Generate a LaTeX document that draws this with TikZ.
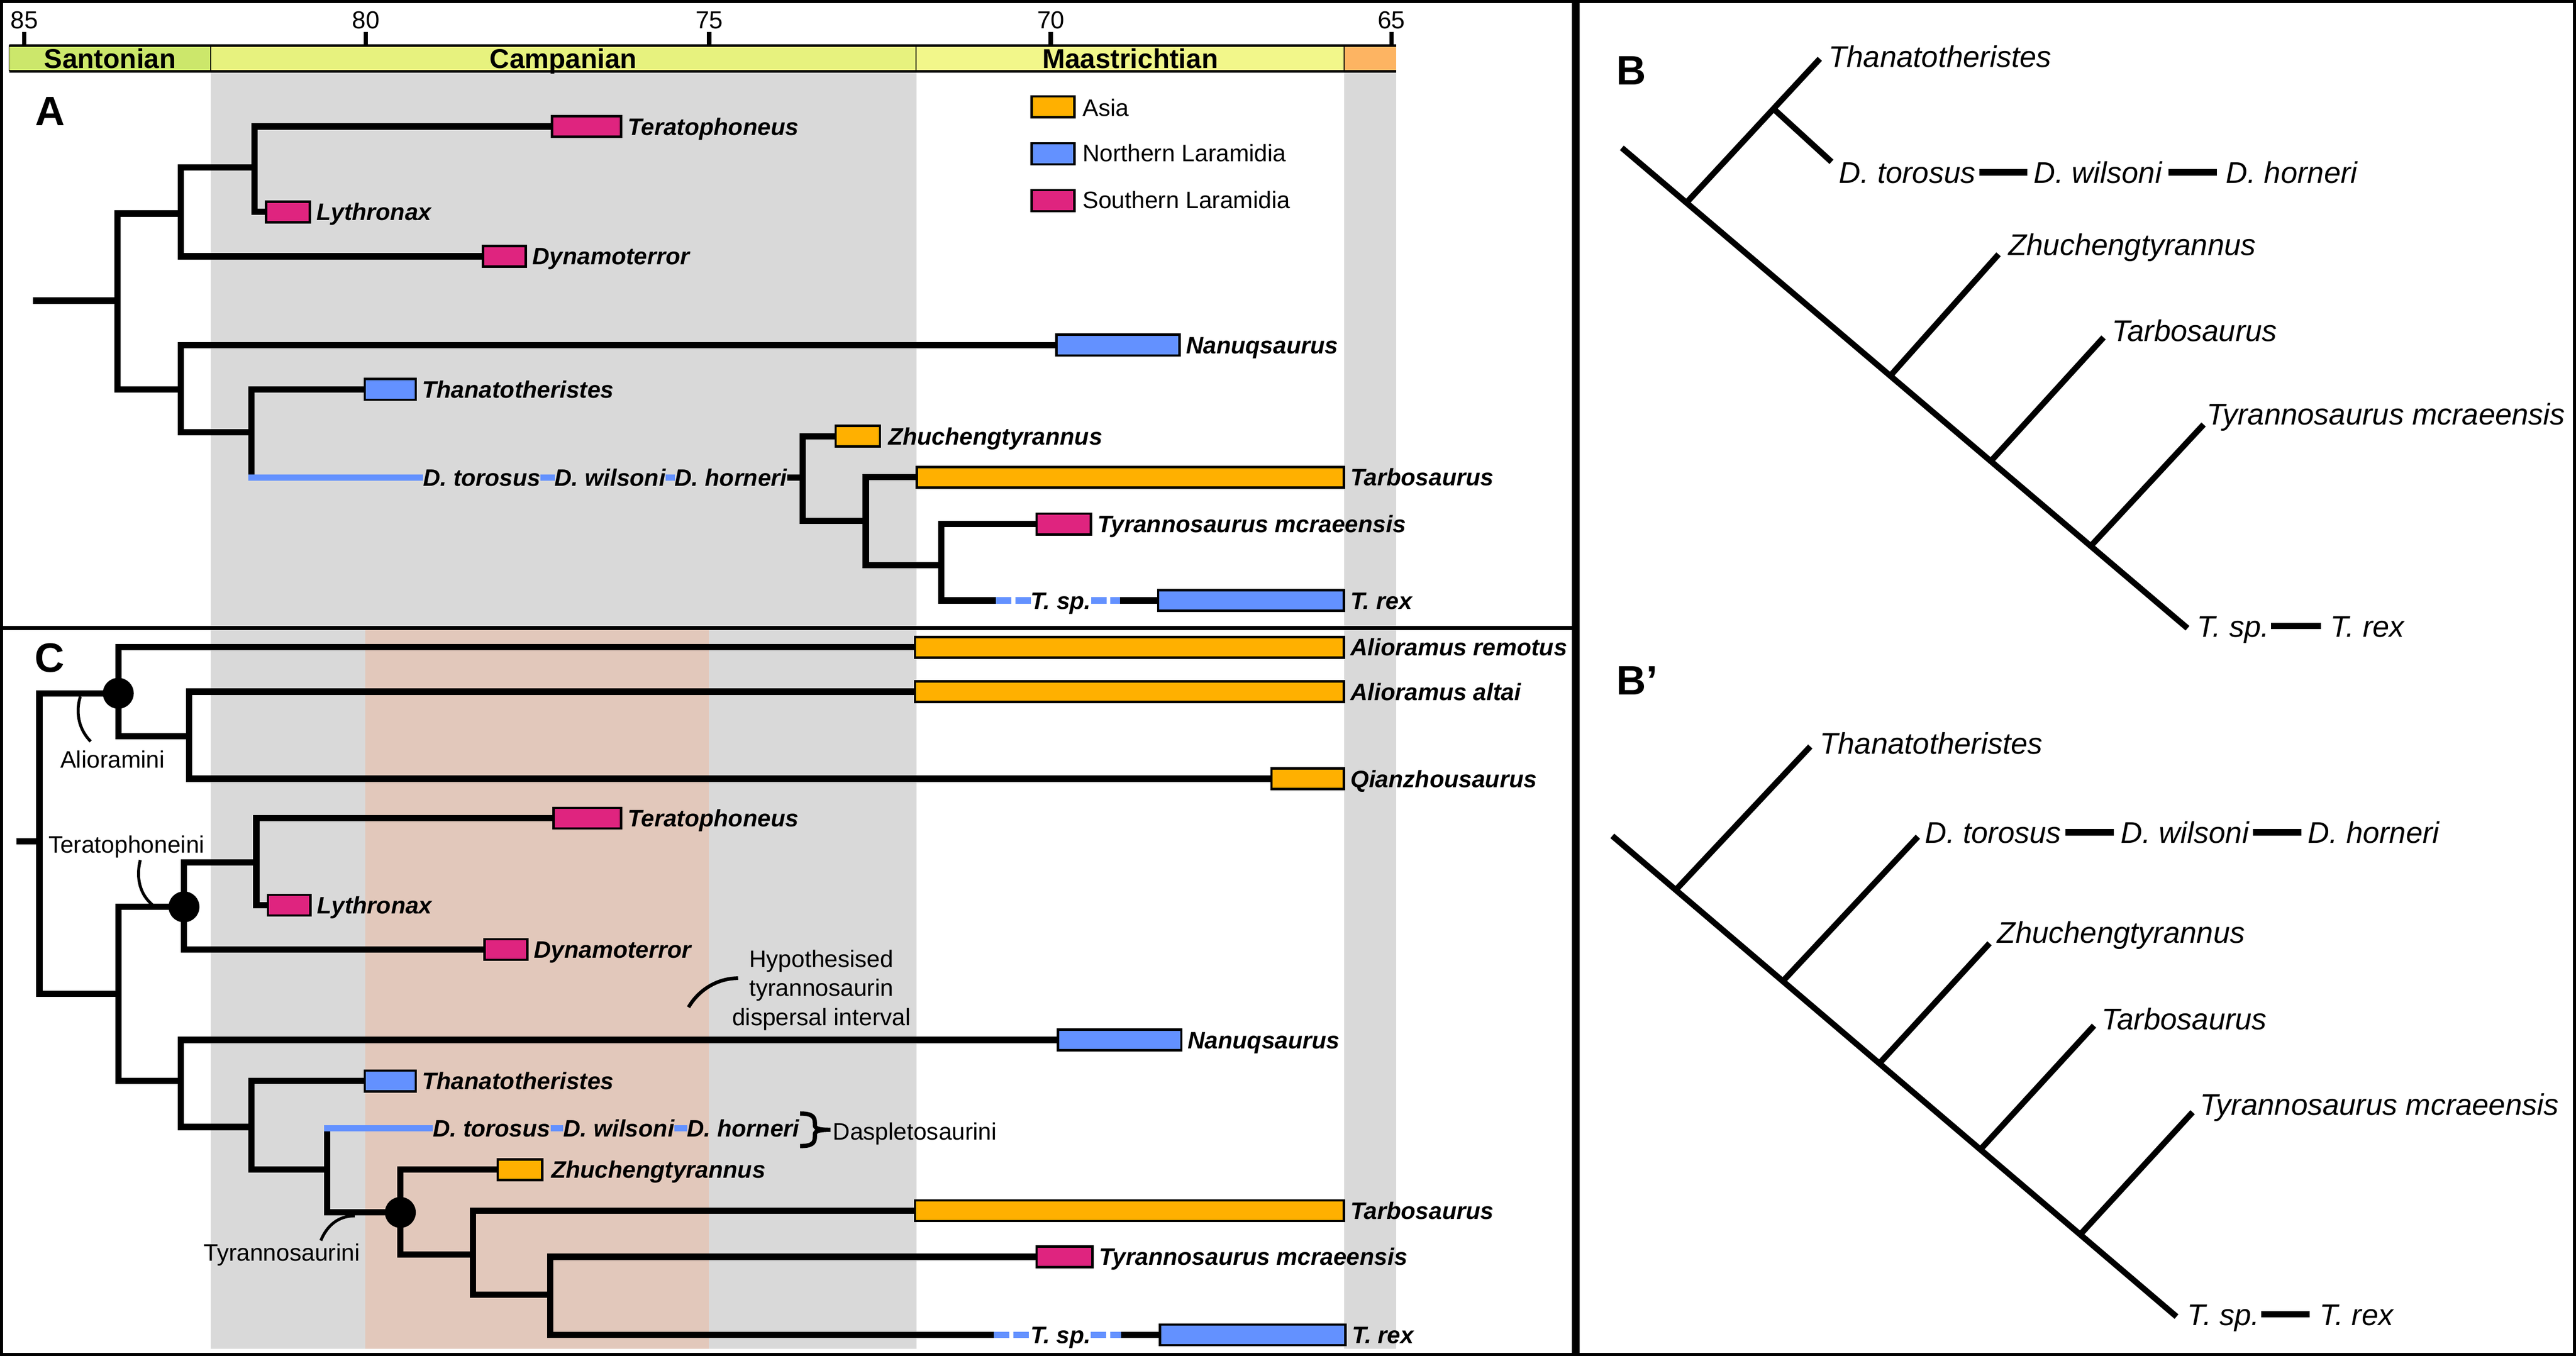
\documentclass[tikz,border=0pt]{standalone}
\usepackage{fontspec}
\setmainfont{Liberation Sans}
\definecolor{greyc}{HTML}{D9D9D9}
\definecolor{salmonc}{HTML}{E2C8BB}
\definecolor{santc}{HTML}{CCE76B}
\definecolor{campc}{HTML}{E7F27E}
\definecolor{maasc}{HTML}{F2F78A}
\definecolor{orangec}{HTML}{FDB462}
\definecolor{asiac}{HTML}{FFB000}
\definecolor{bluec}{HTML}{6391FF}
\definecolor{magc}{HTML}{DF247F}
\newcommand\rstax{\fontsize{20.6pt}{24pt}\selectfont\bfseries\itshape}
\newcommand\rsann{\fontsize{20.6pt}{24pt}\selectfont}
\newcommand\rsbtax{\fontsize{25.9pt}{30pt}\selectfont\itshape}
\newcommand\rsstage{\fontsize{23.6pt}{28pt}\selectfont\bfseries}
\newcommand\rstick{\fontsize{21.3pt}{25pt}\selectfont}
\newcommand\rspanel{\fontsize{35.6pt}{40pt}\selectfont\bfseries}
\pgfdeclarelayer{bg}
\pgfdeclarelayer{ln}
\pgfsetlayers{bg,ln,main}
\begin{document}
\begin{tikzpicture}[x=0.05cm,y=-0.05cm,
  br/.style={line width=0.19cm, line cap=rect, line join=miter},
  brb/.style={line width=0.19cm, line cap=butt},
  blin/.style={line width=0.19cm, draw=bluec, line cap=butt},
  bdash/.style={line width=0.19cm, draw=bluec, line cap=butt, dash pattern=on 0.47cm off 0.115cm},
  bbr/.style={line width=0.18cm, line cap=butt},
  bdsh/.style={line width=0.19cm, line cap=butt},
  tbox/.style={draw=black, line width=2pt, inner sep=0pt, outer sep=0pt, minimum height=0.63cm, anchor=west},
  lbox/.style={draw=black, line width=2pt, inner sep=0pt, outer sep=0pt, minimum height=0.64cm, minimum width=1.3cm, anchor=west},
  tax/.style={font=\rstax, inner sep=0pt, outer sep=0pt, text height=14.75pt, text depth=0pt, anchor=west},
  ann/.style={font=\rsann, inner sep=0pt, outer sep=0pt, text height=14.75pt, text depth=0pt},
  btax/.style={font=\rsbtax, inner sep=0pt, outer sep=0pt, text height=18.54pt, text depth=0pt, anchor=west},
  stage/.style={font=\rsstage, inner sep=0pt, outer sep=0pt, text height=16.9pt, text depth=0pt},
  tick/.style={font=\rstick, inner sep=0pt, outer sep=0pt, text height=15.25pt, text depth=0pt},
  panel/.style={font=\rspanel, inner sep=0pt, outer sep=0pt, text height=25.5pt, text depth=0pt},
  dotn/.style={circle, fill=black, inner sep=0pt, minimum size=0.94cm},
  lead/.style={line width=0.09cm},
  tickl/.style={line width=0.13cm}
]
\useasboundingbox (0,0) rectangle (1568,825.3);

% ---------------- backgrounds ----------------
\begin{pgfonlayer}{bg}
\fill[greyc] (128.2,44.1) rectangle (557.8,381);
\fill[greyc] (818.3,44.1) rectangle (849.7,381);
\fill[greyc] (128.2,383.6) rectangle (557.8,821);
\fill[salmonc] (222.4,383.6) rectangle (431.5,821);
\fill[greyc] (818.3,383.6) rectangle (849.7,821);
% stage bar
\fill[santc] (5.5,27.7) rectangle (128.2,43.4);
\fill[campc] (128.2,27.7) rectangle (557.6,43.4);
\fill[maasc] (557.6,27.7) rectangle (818.3,43.4);
\fill[orangec] (818.3,27.7) rectangle (849.7,43.4);
\end{pgfonlayer}

\draw[line width=0.03cm] (5.5,27.7) -- (5.5,43.4);
\draw[line width=0.03cm] (128.2,27.7) -- (128.2,43.4);
\draw[line width=0.03cm] (557.6,27.7) -- (557.6,43.4);
\draw[line width=0.03cm] (818.3,27.7) -- (818.3,43.4);
\draw[line width=0.068cm] (5.5,27.7) -- (849.7,27.7);
\draw[line width=0.068cm] (5.5,43.4) -- (849.7,43.4);
\node[stage] (santN) at (67,35.5) {Santonian};
\node[stage] (campN) at (342.9,35.5) {Campanian};
\node[stage] (maasN) at (688,35.5) {Maastrichtian};
\foreach \x/\a in {14.8/85, 222.7/80, 431.7/75, 639.6/70, 847/65} {
  \draw[tickl] (\x,19.4) -- (\x,27.7);
  \node[tick] (t\a) at (\x,12) {\a};
}

% ---------------- frames ----------------
\draw[line width=0.09cm] (0.9,0.9) rectangle (1567.1,824.4);
\draw[line width=0.235cm] (959,0) -- (959,825.3);
\draw[line width=0.13cm] (0,382.3) -- (959,382.3);

% ---------------- panel A ----------------
\node[panel] (labA) at (30.4,67.5) {A};
\coordinate (rootA) at (22,183);
\coordinate (nA0) at (71.5,183);
\coordinate (nA1) at (110,130);
\coordinate (nA2) at (155,102);
\coordinate (nA4) at (110,237);
\coordinate (nA5) at (153,263);
\coordinate (dA0) at (153,290.6);
\coordinate (nA6) at (488.6,290.6);
\coordinate (nA7) at (527,317);
\coordinate (nA8) at (573,344);
\coordinate (tA1) at (606.3,365.5);
\coordinate (tA2) at (681.7,365.5);

\node[tbox, fill=magc, minimum width=2.1cm] (teraA) at (336,77) {};
\node[tbox, fill=magc, minimum width=1.33cm] (lythA) at (162,129) {};
\node[tbox, fill=magc, minimum width=1.3cm] (dynaA) at (294,156) {};
\node[tbox, fill=bluec, minimum width=3.75cm] (nanuA) at (643,210) {};
\node[tbox, fill=bluec, minimum width=1.55cm] (thanA) at (222,237) {};
\node[tbox, fill=asiac, minimum width=1.35cm] (zhuA) at (508.7,265.5) {};
\node[tbox, fill=asiac, minimum width=13cm] (tarbA) at (558,290.5) {};
\node[tbox, fill=magc, minimum width=1.65cm] (mcrA) at (631,319) {};
\node[tbox, fill=bluec, minimum width=5.65cm] (trexA) at (705,365.5) {};

\node[tax] (teraAl) at ([xshift=0.2cm]teraA.east) {Teratophoneus};
\node[tax] (lythAl) at ([xshift=0.2cm]lythA.east) {Lythronax};
\node[tax] (dynaAl) at ([xshift=0.2cm]dynaA.east) {Dynamoterror};
\node[tax] (nanuAl) at ([xshift=0.2cm]nanuA.east) {Nanuqsaurus};
\node[tax] (thanAl) at ([xshift=0.2cm]thanA.east) {Thanatotheristes};
\node[tax] (zhuAl) at ([xshift=0.25cm]zhuA.east) {Zhuchengtyrannus};
\node[tax] (tarbAl) at ([xshift=0.2cm]tarbA.east) {Tarbosaurus};
\node[tax] (mcrAl) at ([xshift=0.2cm]mcrA.east) {Tyrannosaurus mcraeensis};
\node[tax] (trexAl) at ([xshift=0.2cm]trexA.east) {T. rex};
\node[tax] (dtorA) at (257.5,290.6) {D. torosus};
\node[tax] (dwilA) at (337.6,290.6) {D. wilsoni};
\node[tax] (dhorA) at (410.7,290.6) {D. horneri};
\node[tax] (tspA) at (627.4,365.5) {T. sp.};

\begin{pgfonlayer}{ln}
\draw[br] (rootA) -- (nA0);
\draw[br] (nA0) |- (nA1);
\draw[br] (nA0) |- (nA4);
\draw[br] (nA1) |- (nA2);
\draw[br] (nA1) |- (dynaA.west);
\draw[br] (nA2) |- (teraA.west);
\draw[br] (nA2) |- (lythA.west);
\draw[br] (nA4) |- (nanuA.west);
\draw[br] (nA4) |- (nA5);
\draw[br] (nA5) |- (thanA.west);
\draw[br] (nA5) -- (dA0);
\draw[blin] (dA0) ++(-1.9,0) -- (dtorA.west);
\draw[blin] (dtorA.east) -- (dwilA.west);
\draw[blin] (dwilA.east) -- (dhorA.west);
\draw[brb] (dhorA.east) -- (nA6);
\draw[br] (nA6) |- (zhuA.west);
\draw[br] (nA6) |- (nA7);
\draw[br] (nA7) |- (tarbA.west);
\draw[br] (nA7) |- (nA8);
\draw[br] (nA8) |- (mcrA.west);
\draw[br] (nA8) |- (tA1);
\draw[bdash] (tA1) -- (tspA.west);
\draw[bdash] (tspA.east) -- (tA2);
\draw[brb] (tA2) -- (trexA.west);
\end{pgfonlayer}

% legend
\node[lbox, fill=asiac, minimum width=1.3cm] (legAs) at (628,65) {};
\node[lbox, fill=bluec, minimum width=1.3cm] (legNL) at (628,93.6) {};
\node[lbox, fill=magc, minimum width=1.3cm] (legSL) at (628,122.1) {};
\node[ann, anchor=west] (legAst) at (659,65.5) {Asia};
\node[ann, anchor=west] (legNLt) at (659,93) {Northern Laramidia};
\node[ann, anchor=west] (legSLt) at (659,121.8) {Southern Laramidia};

% ---------------- panel C ----------------
\node[panel] (labC) at (30.3,400) {C};
\coordinate (rootC) at (12,512);
\coordinate (nC0) at (24,512);
\coordinate (nC1) at (72,422);
\coordinate (nC2) at (115,448);
\coordinate (nC3) at (72,605);
\coordinate (nC4) at (112,552);
\coordinate (nC5) at (156,525);
\coordinate (nC6) at (110,658);
\coordinate (nC7) at (153,686);
\coordinate (nC8) at (199,712);
\coordinate (dC0) at (199,686.9);
\coordinate (nC9) at (243.7,738);
\coordinate (nC10) at (288,763.5);
\coordinate (nC11) at (335,788);
\coordinate (tC1) at (605,812.5);
\coordinate (tC2) at (682.5,812.5);

\node[tbox, fill=asiac, minimum width=13.05cm] (remC) at (557,394) {};
\node[tbox, fill=asiac, minimum width=13.05cm] (altC) at (557,421) {};
\node[tbox, fill=asiac, minimum width=2.2cm] (qianC) at (774,474) {};
\node[tbox, fill=magc, minimum width=2.05cm] (teraC) at (337,498) {};
\node[tbox, fill=magc, minimum width=1.3cm] (lythC) at (163,551) {};
\node[tbox, fill=magc, minimum width=1.3cm] (dynaC) at (295,578) {};
\node[tbox, fill=bluec, minimum width=3.75cm] (nanuC) at (644,633) {};
\node[tbox, fill=bluec, minimum width=1.55cm] (thanC) at (222,658) {};
\node[tbox, fill=asiac, minimum width=1.35cm] (zhuC) at (303,712) {};
\node[tbox, fill=asiac, minimum width=13.05cm] (tarbC) at (557,737) {};
\node[tbox, fill=magc, minimum width=1.7cm] (mcrC) at (631,765) {};
\node[tbox, fill=bluec, minimum width=5.65cm] (trexC) at (706,812.5) {};

\node[tax] (remCl) at ([xshift=0.2cm]remC.east) {Alioramus remotus};
\node[tax] (altCl) at ([xshift=0.2cm]altC.east) {Alioramus altai};
\node[tax] (qianCl) at ([xshift=0.2cm]qianC.east) {Qianzhousaurus};
\node[tax] (teraCl) at ([xshift=0.2cm]teraC.east) {Teratophoneus};
\node[tax] (lythCl) at ([xshift=0.2cm]lythC.east) {Lythronax};
\node[tax] (dynaCl) at ([xshift=0.2cm]dynaC.east) {Dynamoterror};
\node[tax] (nanuCl) at ([xshift=0.2cm]nanuC.east) {Nanuqsaurus};
\node[tax] (thanCl) at ([xshift=0.2cm]thanC.east) {Thanatotheristes};
\node[tax] (zhuCl) at ([xshift=0.28cm]zhuC.east) {Zhuchengtyrannus};
\node[tax] (tarbCl) at ([xshift=0.2cm]tarbC.east) {Tarbosaurus};
\node[tax] (mcrCl) at ([xshift=0.2cm]mcrC.east) {Tyrannosaurus mcraeensis};
\node[tax] (trexCl) at ([xshift=0.2cm]trexC.east) {T. rex};
\node[tax] (dtorC) at (263.5,686.9) {D. torosus};
\node[tax] (dwilC) at (342.9,686.9) {D. wilsoni};
\node[tax] (dhorC) at (418.2,686.9) {D. horneri};
\node[tax] (tspC) at (627.3,812.5) {T. sp.};

\begin{pgfonlayer}{ln}
\draw[br] (rootC) -- (nC0);
\draw[br] (nC0) |- (nC1);
\draw[br] (nC0) |- (nC3);
\draw[br] (nC1) |- (remC.west);
\draw[br] (nC1) |- (nC2);
\draw[br] (nC2) |- (altC.west);
\draw[br] (nC2) |- (qianC.west);
\draw[br] (nC3) |- (nC4);
\draw[br] (nC3) |- (nC6);
\draw[br] (nC4) |- (nC5);
\draw[br] (nC4) |- (dynaC.west);
\draw[br] (nC5) |- (teraC.west);
\draw[br] (nC5) |- (lythC.west);
\draw[br] (nC6) |- (nanuC.west);
\draw[br] (nC6) |- (nC7);
\draw[br] (nC7) |- (thanC.west);
\draw[br] (nC7) |- (nC8);
\draw[br] (nC8) -- (dC0);
\draw[blin] (dC0) ++(-1.9,0) -- (dtorC.west);
\draw[blin] (dtorC.east) -- (dwilC.west);
\draw[blin] (dwilC.east) -- (dhorC.west);
\draw[br] (nC8) |- (nC9);
\draw[br] (nC9) |- (zhuC.west);
\draw[br] (nC9) |- (nC10);
\draw[br] (nC10) |- (tarbC.west);
\draw[br] (nC10) |- (nC11);
\draw[br] (nC11) |- (mcrC.west);
\draw[br] (nC11) |- (tC1);
\draw[bdash] (tC1) -- (tspC.west);
\draw[bdash] (tspC.east) -- (tC2);
\draw[brb] (tC2) -- (trexC.west);
\end{pgfonlayer}

\node[dotn] (dot1) at (nC1) {};
\node[dotn] (dot2) at (nC4) {};
\node[dotn] (dot3) at (nC9) {};

% clade annotations
\node[ann] (aliT) at (68.5,462.2) {Alioramini};
\coordinate (aliS) at (48.9,424);
\coordinate (aliE) at (55.2,451.3);
\draw[lead] (aliS) .. controls (46.3,432) and (47,443) .. (aliE);
\node[ann] (terT) at (77,514) {Teratophoneini};
\coordinate (terS) at (85.4,523.5);
\coordinate (terE) at (92.6,550.6);
\draw[lead] (terS) .. controls (83.2,532) and (83.8,543) .. (terE);
\node[ann] (tyrT) at (171.5,762.4) {Tyrannosaurini};
\coordinate (tyrS) at (216,740.1);
\coordinate (tyrE) at (195.3,755.1);
\draw[lead] (tyrS) .. controls (206,740) and (199,746) .. (tyrE);
\node[ann] (hyp1) at (500,583.5) {Hypothesised};
\node[ann] (hyp2) at (500,601.2) {tyrannosaurin};
\node[ann] (hyp3) at (500,618.9) {dispersal interval};
\coordinate (hypS) at (449.3,595.4);
\coordinate (hypE) at (419.1,613.1);
\draw[line width=0.11cm] (hypS) .. controls (436,595.5) and (425,603) .. (hypE);
\draw[line width=0.13cm] (487,677.8) .. controls (494,677.8) and (496,679.5) .. (496,683.5) -- (496,684.8) .. controls (496,687) and (498.5,687.7) .. (505.5,687.7) .. controls (498.5,687.7) and (496,688.4) .. (496,690.6) -- (496,692) .. controls (496,696) and (494,697.6) .. (487,697.6);
\node[ann, anchor=west] (dasT) at (507,688.6) {Daspletosaurini};

% ---------------- panel B ----------------
\node[panel] (labB) at (993,42.5) {B};
\coordinate (bR) at (987.2,90);
\coordinate (bE) at (1331.5,382.4);
\coordinate (bN1) at (1026.5,123.4);
\coordinate (bN2) at (1079.5,66.2);
\coordinate (bT1) at (1107.7,35.8);
\coordinate (bT2) at (1114.8,98.5);
\coordinate (bN3) at (1150.9,228.4);
\coordinate (bT3) at (1216.5,154.8);
\coordinate (bN4) at (1211.8,280.7);
\coordinate (bT4) at (1280.4,205.4);
\coordinate (bN5) at (1272.6,332.4);
\coordinate (bT5) at (1341.3,258.4);
\draw[bbr] (bR) -- (bE);
\draw[bbr] (bN1) -- (bT1);
\draw[bbr] (bN2) -- (bT2);
\draw[bbr] (bN3) -- (bT3);
\draw[bbr] (bN4) -- (bT4);
\draw[bbr] (bN5) -- (bT5);
\node[btax] (bthan) at (1113,34.5) {Thanatotheristes};
\node[btax] (btor) at (1119.5,104.9) {D. torosus};
\node[btax] (bwil) at (1238,104.9) {D. wilsoni};
\node[btax] (bhor) at (1355,104.9) {D. horneri};
\node[btax] (bzhu) at (1222.4,148.9) {Zhuchengtyrannus};
\node[btax] (btarb) at (1285.5,201.3) {Tarbosaurus};
\node[btax] (bmcr) at (1343.2,252) {Tyrannosaurus mcraeensis};
\node[btax] (btsp) at (1337.4,381.1) {T. sp.};
\node[btax] (btrex) at (1418.6,381.1) {T. rex};
\draw[bdsh] ([xshift=0.12cm]btor.east) -- ([xshift=-0.2cm]bwil.west);
\draw[bdsh] ([xshift=0.2cm]bwil.east) -- ([xshift=-0.28cm]bhor.west);
\draw[bdsh] ([xshift=0.05cm]btsp.east) -- ([xshift=-0.3cm]btrex.west);

% ---------------- panel B' ----------------
\node[panel, anchor=west] (labBp) at (984,414) {B’};
\coordinate (pR) at (981.4,508.8);
\coordinate (pE) at (1324.8,801.4);
\coordinate (pN1) at (1020.2,541.5);
\coordinate (pT1) at (1101.9,454.4);
\coordinate (pN2) at (1085.4,597);
\coordinate (pT2) at (1167.4,509.3);
\coordinate (pN3) at (1144.2,647);
\coordinate (pT3) at (1211,574.2);
\coordinate (pN4) at (1205.9,699.2);
\coordinate (pT4) at (1274.6,624.3);
\coordinate (pN5) at (1266.7,750.9);
\coordinate (pT5) at (1334.6,677);
\draw[bbr] (pR) -- (pE);
\draw[bbr] (pN1) -- (pT1);
\draw[bbr] (pN2) -- (pT2);
\draw[bbr] (pN3) -- (pT3);
\draw[bbr] (pN4) -- (pT4);
\draw[bbr] (pN5) -- (pT5);
\node[btax] (pthan) at (1107.7,452.5) {Thanatotheristes};
\node[btax] (ptor) at (1171.7,506.6) {D. torosus};
\node[btax] (pwil) at (1291,506.6) {D. wilsoni};
\node[btax] (phor) at (1404.9,506.6) {D. horneri};
\node[btax] (pzhu) at (1215.7,567.5) {Zhuchengtyrannus};
\node[btax] (ptarb) at (1279.3,620.2) {Tarbosaurus};
\node[btax] (pmcr) at (1339.3,672.4) {Tyrannosaurus mcraeensis};
\node[btax] (ptsp) at (1331.5,800.1) {T. sp.};
\node[btax] (ptrex) at (1411.9,800.1) {T. rex};
\draw[bdsh] ([xshift=0.12cm]ptor.east) -- ([xshift=-0.22cm]pwil.west);
\draw[bdsh] ([xshift=0.13cm]pwil.east) -- ([xshift=-0.2cm]phor.west);
\draw[bdsh] ([xshift=0.05cm]ptsp.east) -- ([xshift=-0.3cm]ptrex.west);
\end{tikzpicture}
\end{document}
